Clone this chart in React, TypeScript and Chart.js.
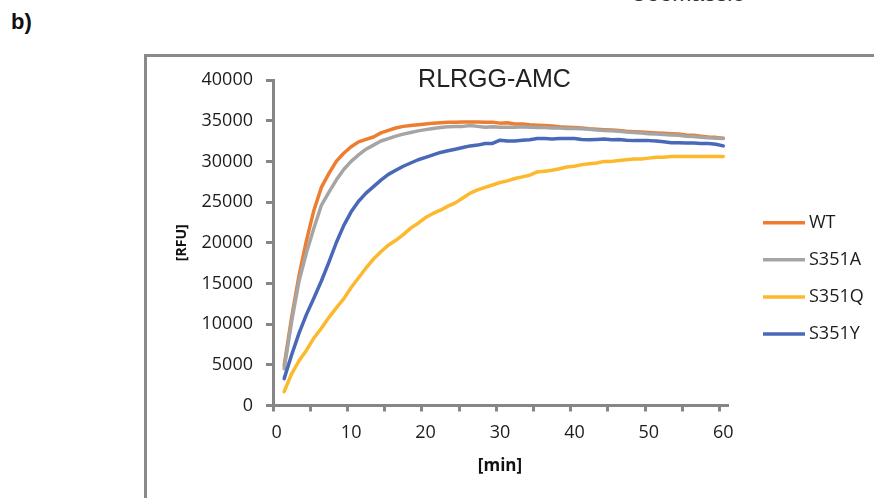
import React, { useEffect, useRef } from 'react';
import { Chart, registerables } from 'chart.js';

Chart.register(...registerables);

// ---- data ----
const minutes = [
  1, 2, 3, 4, 5, 6, 7, 8, 9, 10, 11, 12, 13, 14, 15, 16, 17, 18, 19, 20,
  21, 22, 23, 24, 25, 26, 27, 28, 29, 30, 31, 32, 33, 34, 35, 36, 37, 38, 39, 40,
  41, 42, 43, 44, 45, 46, 47, 48, 49, 50, 51, 52, 53, 54, 55, 56, 57, 58, 59, 60,
];

const wt = [
  4900, 10800, 16000, 20300, 24000, 26800, 28500, 30000, 31000, 31800,
  32400, 32700, 33000, 33500, 33800, 34100, 34300, 34400, 34500, 34600,
  34700, 34750, 34800, 34800, 34850, 34850, 34850, 34800, 34800, 34700,
  34750, 34600, 34600, 34500, 34450, 34400, 34350, 34250, 34200, 34150,
  34100, 34000, 33950, 33900, 33850, 33800, 33700, 33650, 33600, 33550,
  33500, 33450, 33400, 33350, 33250, 33200, 33100, 33000, 32950, 32850,
];

const s351a = [
  4500, 10300, 15300, 18800, 21800, 24600, 26200, 27700, 29000, 30000,
  30800, 31500, 32000, 32500, 32800, 33100, 33350, 33550, 33750, 33900,
  34050, 34150, 34250, 34300, 34300, 34400, 34300, 34200, 34250, 34200,
  34200, 34200, 34250, 34200, 34150, 34150, 34100, 34100, 34050, 34050,
  34000, 33950, 33850, 33800, 33750, 33700, 33600, 33550, 33500, 33400,
  33350, 33300, 33250, 33200, 33100, 33050, 32950, 32900, 32850, 32800,
];

const s351q = [
  1700, 3900, 5500, 6800, 8300, 9500, 10800, 12000, 13100, 14500,
  15700, 16900, 18000, 18900, 19700, 20300, 21000, 21800, 22400, 23100,
  23600, 24000, 24500, 24900, 25500, 26100, 26500, 26800, 27100, 27400,
  27600, 27900, 28100, 28300, 28700, 28800, 28900, 29100, 29300, 29400,
  29600, 29700, 29800, 30000, 30000, 30100, 30200, 30300, 30300, 30400,
  30500, 30500, 30600, 30600, 30600, 30600, 30600, 30600, 30600, 30600,
];

const s351y = [
  3300, 6200, 8900, 11200, 13200, 15300, 17600, 20000, 22100, 23800,
  25100, 26100, 26900, 27700, 28400, 28900, 29400, 29800, 30200, 30500,
  30800, 31100, 31300, 31500, 31700, 31900, 32000, 32200, 32200, 32600,
  32500, 32500, 32600, 32650, 32800, 32800, 32750, 32800, 32800, 32800,
  32700, 32650, 32700, 32750, 32650, 32700, 32600, 32550, 32550, 32550,
  32500, 32400, 32300, 32300, 32250, 32250, 32200, 32200, 32100, 31900,
];

const seriesNames = ['WT', 'S351A', 'S351Q', 'S351Y'];
const seriesValues = [wt, s351a, s351q, s351y];
const seriesColors = ['#ED7D31', '#A5A5A5', '#FDB92E', '#4A68B8'];

const yTickValues = [0, 5000, 10000, 15000, 20000, 25000, 30000, 35000, 40000];
const xTickLabels = [0, 10, 20, 30, 40, 50, 60];
const xTickMarks = [-0.5, 4.5, 9.5, 14.5, 19.5, 24.5, 29.5, 34.5, 39.5, 44.5, 49.5, 54.5, 59.5];

const chartTitle = 'RLRGG-AMC';
const yTitle = '[RFU]';
const xTitle = '[min]';

// ---- styles ----
const AXIS = '#868686';
const TEXT = '#1c1c1c';
const TICK_FONT = "'Open Sans', 'DejaVu Sans', sans-serif";

const sideLegend = {
  id: 'sideLegend',
  afterDraw(chart: any) {
    const { ctx, chartArea } = chart;
    const x0 = chartArea.right + 36;
    const lineLen = 42;
    const y0 = chartArea.top + 142.7;
    const gap = 37.1;
    ctx.save();
    ctx.font = `18px ${TICK_FONT}`;
    ctx.textBaseline = 'middle';
    ctx.textAlign = 'left';
    chart.data.datasets.forEach((ds: any, i: number) => {
      const y = y0 + i * gap;
      ctx.strokeStyle = ds.borderColor;
      ctx.lineWidth = 3.5;
      ctx.lineCap = 'butt';
      ctx.beginPath();
      ctx.moveTo(x0, y);
      ctx.lineTo(x0 + lineLen, y);
      ctx.stroke();
      ctx.fillStyle = TEXT;
      ctx.fillText(ds.label, x0 + lineLen + 4, y);
    });
    ctx.restore();
  },
};

export default function App() {
  const ref = useRef<HTMLCanvasElement>(null);

  useEffect(() => {
    const canvas = ref.current;
    if (!canvas) return;
    const datasets = seriesNames.map((name, i) => ({
      label: name,
      data: minutes.map((m, j) => ({ x: m, y: seriesValues[i][j] })),
      borderColor: seriesColors[i],
      backgroundColor: seriesColors[i],
      borderWidth: 3.5,
      pointRadius: 0,
      tension: 0,
      fill: false,
      borderJoinStyle: 'round' as const,
      borderCapStyle: 'round' as const,
      order: seriesNames.length - 1 - i,
    }));

    const chart = new Chart(canvas, {
      type: 'line',
      data: { datasets },
      plugins: [sideLegend],
      options: {
        responsive: false,
        animation: false,
        events: [],
        layout: { padding: { left: 162, right: 47, top: 0, bottom: 21.5 } },
        plugins: {
          legend: { display: false },
          tooltip: { enabled: false },
          title: {
            display: true,
            text: chartTitle,
            color: '#222',
            font: { family: "'Liberation Sans', Arial, sans-serif", size: 25, weight: 'normal' },
            padding: { top: 64.8, bottom: -14.8 },
          },
        },
        scales: {
          x: {
            type: 'linear',
            position: 'bottom',
            min: -0.5,
            max: 60.5,
            bounds: 'data',
            afterBuildTicks: (s: any) => {
              s.ticks = xTickMarks.map((v) => ({ value: v }));
            },
            afterFit: (s: any) => {
              s.height = 6;
            },
            ticks: { display: false },
            grid: { drawOnChartArea: false, drawTicks: true, tickLength: 6, color: AXIS, lineWidth: 3 },
            border: { display: true, color: AXIS, width: 3 },
          },
          x2: {
            type: 'linear',
            position: 'bottom',
            weight: 1,
            min: -0.5,
            max: 60.5,
            bounds: 'data',
            afterBuildTicks: (s: any) => {
              s.ticks = xTickLabels.map((v) => ({ value: v }));
            },
            afterFit: (s: any) => {
              s.height = 65;
            },
            ticks: {
              autoSkip: false,
              maxRotation: 0,
              padding: 11,
              color: TEXT,
              font: { family: TICK_FONT, size: 18 },
              callback: (v: any) => String(v),
            },
            grid: { display: false, drawTicks: false, tickLength: 0 },
            border: { display: false },
            title: {
              display: true,
              text: xTitle,
              color: '#111',
              font: { family: TICK_FONT, size: 17, weight: 'bold' },
              padding: { top: 0, bottom: 0 },
            },
          },
          y: {
            type: 'linear',
            position: 'left',
            min: 0,
            max: 40000,
            afterBuildTicks: (s: any) => {
              s.ticks = yTickValues.map((v) => ({ value: v }));
            },
            afterFit: (s: any) => {
              s.width = 111;
            },
            ticks: {
              padding: 13,
              color: TEXT,
              font: { family: TICK_FONT, size: 18 },
              callback: (v: any) => String(v),
            },
            grid: { drawOnChartArea: false, drawTicks: true, tickLength: 7, color: AXIS, lineWidth: 3 },
            border: { display: true, color: AXIS, width: 3 },
            title: {
              display: true,
              text: yTitle,
              color: '#111',
              font: { family: TICK_FONT, size: 14, weight: 'bold' },
              padding: { top: 11.6, bottom: 0 },
            },
          },
          // empty right-hand spacer that reserves room for the legend
          legendSpace: {
            type: 'linear',
            position: 'right',
            display: true,
            min: 0,
            max: 1,
            afterFit: (s: any) => {
              s.width = 100;
            },
            ticks: { display: false },
            grid: { display: false, drawTicks: false, tickLength: 0 },
            border: { display: false },
          },
        },
      },
    });
    return () => chart.destroy();
  }, []);

  return (
    <div
      style={{
        position: 'fixed',
        left: 0,
        top: 0,
        width: 874,
        height: 498,
        overflow: 'hidden',
        background: '#ffffff',
      }}
    >
      <div
        style={{
          position: 'absolute',
          left: 11,
          top: 10.5,
          fontFamily: "'Liberation Sans', Arial, sans-serif",
          fontWeight: 'bold',
          fontSize: 22,
          lineHeight: '22px',
          color: '#111',
          whiteSpace: 'nowrap',
        }}
      >
        b)
      </div>
      <div
        style={{
          position: 'absolute',
          left: 630,
          top: -18.5,
          fontFamily: "'Liberation Sans', Arial, sans-serif",
          fontSize: 23,
          lineHeight: '23px',
          color: '#333',
          whiteSpace: 'nowrap',
        }}
      >
        Coomassie
      </div>
      <div
        style={{
          position: 'absolute',
          left: 144,
          top: 54,
          width: 800,
          height: 500,
          borderLeft: '3px solid #8a8a8a',
          borderTop: '3px solid #8a8a8a',
        }}
      />
      <canvas
        ref={ref}
        width={874}
        height={498}
        style={{ position: 'absolute', left: 0, top: 0, width: 874, height: 498 }}
      />
    </div>
  );
}
